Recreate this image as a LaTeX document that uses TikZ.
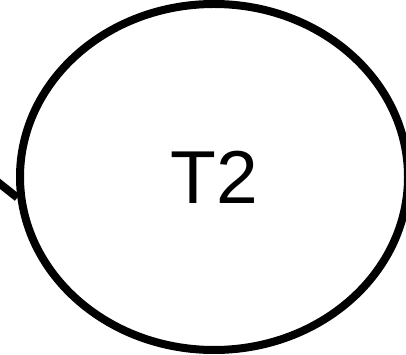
\documentclass[tikz,border=0pt]{standalone}
\usepackage{fontspec}
\setmainfont{Liberation Sans}
\usetikzlibrary{shapes.geometric}
\tikzset{statenode/.style={ellipse,draw=black,line width=8pt,inner sep=0pt,minimum width=388pt,minimum height=346pt,font=\fontsize{75}{90}\selectfont},edgeline/.style={line width=8pt,black}}

\begin{document}
\begin{tikzpicture}[x=1pt,y=1pt]
\useasboundingbox (0,0) rectangle (406,355);
\node[statenode] (t2) at (214,178) {T2};
\coordinate (src) at (-30,195);
\draw[edgeline] (src) -- (t2.186);
\end{tikzpicture}
\end{document}
